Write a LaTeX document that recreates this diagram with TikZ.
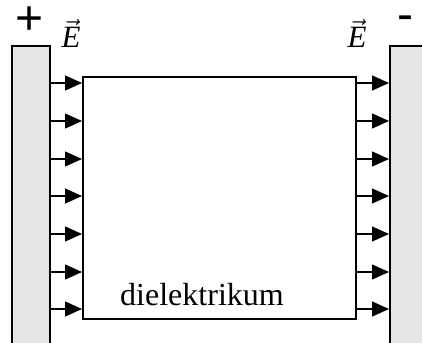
\documentclass[tikz,border=0pt]{standalone}
\usepackage{fontspec}
\setmainfont{Liberation Serif}
\newfontfamily\signfont{Liberation Sans}
\usepackage{amsmath}
\usepackage{graphicx}
\usepackage{tikz}
\usetikzlibrary{arrows.meta,positioning}
\tikzstyle{plate}=[fill=black!10, draw=black, line width=1.7pt,
        minimum width=38pt, minimum height=320pt, anchor=north west]
\tikzstyle{field}=[line width=1.2pt, -{Triangle[length=17pt,width=15pt]}]
\tikzstyle{sign}=[font=\signfont\fontsize{48}{52}\selectfont, anchor=base,
        inner sep=0pt]
\tikzstyle{vect}=[anchor=base, inner sep=0pt]
\newcommand{\efield}{\scalebox{3.1}{$\vec{\text{\itshape E}}$}}

\begin{document}
\begin{tikzpicture}[x=1pt, y=-1pt]
        \useasboundingbox (0,0) rectangle (422,342);
        \clip (0,0) rectangle (422,342);

        \node[plate] (lplate) at (11,45) {};

        \node[plate] (rplate) at (389,45) {};

        \node[draw, line width=2pt, minimum width=273pt, minimum height=242pt,
            anchor=north west] (diel) at (82,76) {};

        \node[font=\fontsize{32}{36}\selectfont] (name) at (202,295)
            {dielektrikum};

        \node[sign] (plus) at (29.5,35) {+};
        \node[sign] (minus) at (405,30.5) {-};

        \node[vect] (eleft) at (71,48) {\efield};
        \node[vect] (eright) at (357,48) {\efield};

        \foreach \y in {83,121,159,196,234,272,309} {
            \draw[field] (lplate.east |- 0,\y) to (diel.west |- 0,\y);
            \draw[field] (diel.east |- 0,\y) to (rplate.west |- 0,\y);
        }

    \end{tikzpicture}
\end{document}
